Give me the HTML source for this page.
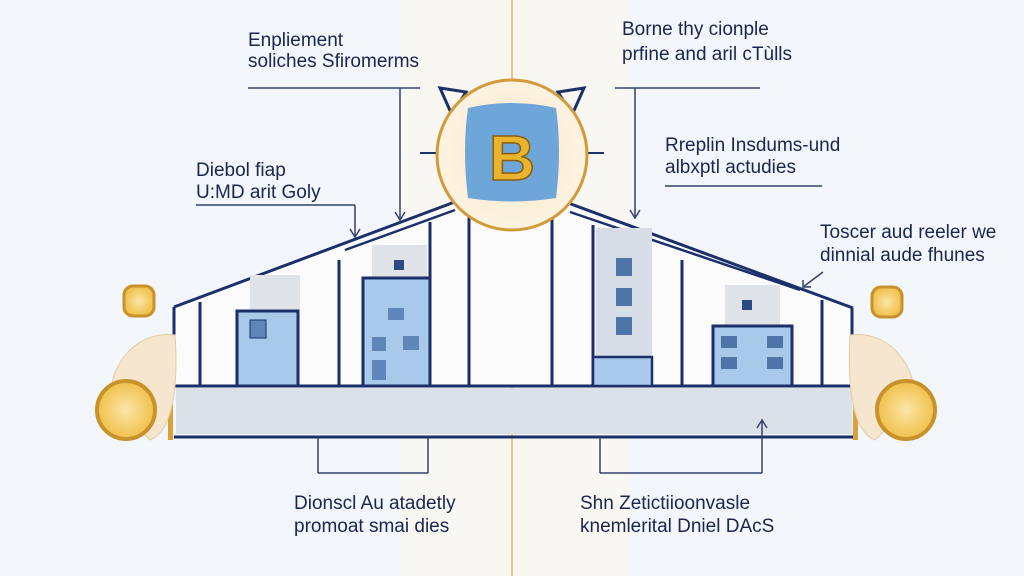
<!DOCTYPE html>
<html><head><meta charset="utf-8"><style>
html,body{margin:0;padding:0;background:#f3f6fa;}
svg{display:block}
text{font-family:"Liberation Sans",sans-serif;fill:#1a2550;font-size:19px}
</style></head><body>
<svg width="1024" height="576" viewBox="0 0 1024 576" xmlns="http://www.w3.org/2000/svg">
<defs>
<radialGradient id="cg" cx="50%" cy="50%" r="50%"><stop offset="0" stop-color="#fbe7c4"/><stop offset="1" stop-color="#fcf3e2"/></radialGradient>
<radialGradient id="coin" cx="50%" cy="50%" r="50%"><stop offset="0" stop-color="#fbe6a8"/><stop offset="1" stop-color="#f0c04a"/></radialGradient>
</defs>
<rect width="1024" height="576" fill="#f3f6fa"/>
<rect x="400" y="0" width="230" height="576" fill="#f9f7f1"/>
<line x1="512" y1="0" x2="512" y2="576" stroke="#e6b874" stroke-width="1.5"/>
<polygon points="174,307 460,200 560,200 853,308 853,386 174,386" fill="#fbfbfb"/>
<rect x="176" y="388" width="676" height="46" fill="#dbe1e8"/>
<line x1="174" y1="386" x2="853" y2="386" stroke="#1b2f6b" stroke-width="3"/>
<line x1="174" y1="437" x2="853" y2="437" stroke="#1b2f6b" stroke-width="3"/>
<rect x="168" y="384" width="5" height="56" fill="#d9a13a"/>
<rect x="853" y="384" width="5" height="56" fill="#d9a13a"/>
<polyline points="174,307 460,200" stroke="#1b2f6b" stroke-width="3" fill="none"/>
<polyline points="345,250 455,210" stroke="#1b2f6b" stroke-width="2.5" fill="none"/>
<polyline points="560,200 853,308" stroke="#1b2f6b" stroke-width="3" fill="none"/>
<polyline points="570,212 800,290" stroke="#1b2f6b" stroke-width="2.5" fill="none"/>
<g stroke="#1b2f6b" stroke-width="3">
<line x1="174" y1="307" x2="174" y2="386"/><line x1="200" y1="302" x2="200" y2="386"/>
<line x1="339" y1="260" x2="339" y2="386"/><line x1="430" y1="222" x2="430" y2="386"/>
<line x1="469" y1="210" x2="469" y2="386"/>
<line x1="552" y1="215" x2="552" y2="386"/><line x1="593" y1="225" x2="593" y2="386"/>
<line x1="682" y1="260" x2="682" y2="386"/><line x1="822" y1="300" x2="822" y2="386"/>
<line x1="852" y1="308" x2="852" y2="386"/>
</g>
<rect x="250" y="275" width="50" height="35" fill="#dfe3e8"/>
<rect x="237" y="311" width="61" height="75" fill="#a9c9ea" stroke="#1b2f6b" stroke-width="3"/>
<rect x="250" y="320" width="16" height="18" fill="#5f86b8" stroke="#1b2f6b"/>
<rect x="372" y="245" width="55" height="32" fill="#dfe3e8"/>
<rect x="363" y="278" width="67" height="108" fill="#a9c9ea" stroke="#1b2f6b" stroke-width="3"/>
<rect x="388" y="308" width="16" height="12" fill="#5f86b8"/><rect x="372" y="337" width="14" height="14" fill="#5f86b8"/>
<rect x="403" y="336" width="16" height="14" fill="#5f86b8"/><rect x="372" y="360" width="14" height="20" fill="#5f86b8"/>
<rect x="394" y="260" width="10" height="10" fill="#2c4a86"/>
<rect x="596" y="228" width="56" height="130" fill="#d6dde6"/>
<rect x="593" y="357" width="59" height="29" fill="#a9c9ea" stroke="#1b2f6b" stroke-width="2.5"/>
<rect x="616" y="258" width="16" height="18" fill="#4f75a8"/><rect x="616" y="288" width="16" height="18" fill="#4f75a8"/><rect x="616" y="317" width="16" height="18" fill="#4f75a8"/>
<rect x="725" y="285" width="55" height="40" fill="#dfe3e8"/>
<rect x="742" y="300" width="10" height="10" fill="#2c4a86"/>
<rect x="713" y="326" width="79" height="60" fill="#a9c9ea" stroke="#1b2f6b" stroke-width="3"/>
<rect x="721" y="336" width="16" height="12" fill="#4f75a8"/><rect x="767" y="336" width="16" height="12" fill="#4f75a8"/>
<rect x="721" y="357" width="16" height="12" fill="#4f75a8"/><rect x="767" y="357" width="16" height="12" fill="#4f75a8"/>
<polygon points="440,88 466,92 452,115" fill="none" stroke="#1b2f6b" stroke-width="3"/>
<polygon points="584,88 558,92 572,115" fill="none" stroke="#1b2f6b" stroke-width="3"/>
<line x1="420" y1="153" x2="440" y2="153" stroke="#1b2f6b" stroke-width="2"/>
<line x1="584" y1="153" x2="604" y2="153" stroke="#1b2f6b" stroke-width="2"/>
<circle cx="512" cy="155" r="75" fill="url(#cg)" stroke="#d39a3a" stroke-width="3"/>
<path d="M468,108 Q512,98 556,108 Q562,150 556,198 Q512,205 468,198 Q462,150 468,108Z" fill="#6ea6d9"/>
<text x="512" y="180" text-anchor="middle" style="font-size:64px;font-weight:bold;fill:#e9b52c;stroke:#8a5c10;stroke-width:1.5">B</text>
<path d="M175,335 C140,330 110,360 110,400 L150,440 C175,430 178,380 175,335Z" fill="#f6e6cf" stroke="#e6cba0"/>
<path d="M850,335 C885,330 915,360 915,400 L875,440 C850,430 848,380 850,335Z" fill="#f6e6cf" stroke="#e6cba0"/>
<circle cx="126" cy="410" r="29" fill="url(#coin)" stroke="#c8922a" stroke-width="4"/>
<circle cx="906" cy="410" r="29" fill="url(#coin)" stroke="#c8922a" stroke-width="4"/>
<rect x="124" y="286" width="30" height="30" rx="9" fill="url(#coin)" stroke="#c8922a" stroke-width="3"/>
<rect x="872" y="287" width="30" height="30" rx="9" fill="url(#coin)" stroke="#c8922a" stroke-width="3"/>
<g stroke="#33416e" stroke-width="1.5" fill="none">
<line x1="248" y1="88" x2="420" y2="88"/><line x1="400" y1="88" x2="400" y2="220"/>
<polyline points="395,212 400,220 405,212"/>
<line x1="196" y1="205" x2="355" y2="205"/><line x1="355" y1="205" x2="355" y2="237"/>
<polyline points="350,229 355,237 360,229"/>
<line x1="615" y1="88" x2="760" y2="88"/><line x1="635" y1="88" x2="635" y2="218"/>
<polyline points="630,210 635,218 640,210"/>
<line x1="665" y1="186" x2="822" y2="186"/>
<line x1="823" y1="272" x2="803" y2="287"/><polyline points="803,280 803,287 811,287"/>
<line x1="318" y1="437" x2="318" y2="473"/><line x1="318" y1="473" x2="428" y2="473"/><line x1="428" y1="437" x2="428" y2="473"/>
<line x1="600" y1="437" x2="600" y2="473"/><line x1="600" y1="473" x2="762" y2="473"/><line x1="762" y1="473" x2="762" y2="420"/>
<polyline points="757,428 762,420 767,428"/>
</g>
<text x="248" y="46">Enpliement</text>
<text x="248" y="67">soliches Sfiromerms</text>
<text x="196" y="176">Diebol fiap</text>
<text x="196" y="198">U:MD arit Goly</text>
<text x="622" y="35">Borne thy cionple</text>
<text x="622" y="60">prfine and aril cTùlls</text>
<text x="665" y="151">Rreplin Insdums-und</text>
<text x="665" y="173">albxptl actudies</text>
<text x="820" y="238">Toscer aud reeler we</text>
<text x="820" y="261">dinnial aude fhunes</text>
<text x="294" y="509">Dionscl Au atadetly</text>
<text x="294" y="532">promoat smai dies</text>
<text x="580" y="509">Shn Zetictiioonvasle</text>
<text x="580" y="532">knemlerital Dniel DAcS</text>
</svg>
</body></html>
